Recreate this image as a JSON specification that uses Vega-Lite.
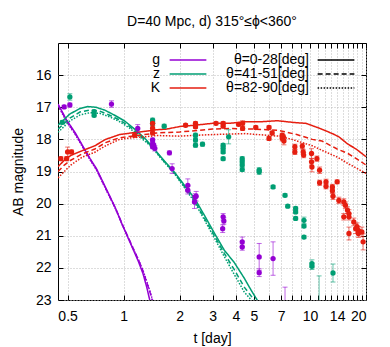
{
  "$schema": "https://vega.github.io/schema/vega-lite/v6.json",
  "width": 308,
  "height": 257,
  "autosize": {"type": "none"},
  "padding": {"left": 58, "top": 43, "right": 24, "bottom": 47},
  "title": {"text": "D=40 Mpc, d) 315°≤ϕ<360°", "fontSize": 14, "font": "Liberation Sans", "fontWeight": "normal", "offset": 14, "anchor": "middle", "color": "#000"},
  "config": {
    "view": {"stroke": "#000", "strokeWidth": 1},
    "font": "Liberation Sans",
    "axis": {"labelFont": "Liberation Sans", "titleFont": "Liberation Sans", "labelColor": "#000", "titleColor": "#000", "labelFontSize": 14, "titleFontSize": 14, "titleFontWeight": "normal", "tickColor": "#000", "domain": false, "gridColor": "#bbbbbb", "gridDash": [1, 2], "gridWidth": 1}
  },
  "datasets": {
    "curves": [
      {"band":"g","theta":"θ=0-28[deg]","t":0.444,"mag":16.9},{"band":"g","theta":"θ=0-28[deg]","t":0.494,"mag":17.4},{"band":"g","theta":"θ=0-28[deg]","t":0.55,"mag":17.8},{"band":"g","theta":"θ=0-28[deg]","t":0.606,"mag":18.23},{"band":"g","theta":"θ=0-28[deg]","t":0.66,"mag":18.6},{"band":"g","theta":"θ=0-28[deg]","t":0.714,"mag":18.91},{"band":"g","theta":"θ=0-28[deg]","t":0.8,"mag":19.5},{"band":"g","theta":"θ=0-28[deg]","t":0.9,"mag":20.12},{"band":"g","theta":"θ=0-28[deg]","t":0.99,"mag":20.7},{"band":"g","theta":"θ=0-28[deg]","t":1.1,"mag":21.3},{"band":"g","theta":"θ=0-28[deg]","t":1.2,"mag":21.8},{"band":"g","theta":"θ=0-28[deg]","t":1.27,"mag":22.18},{"band":"g","theta":"θ=0-28[deg]","t":1.33,"mag":22.6},{"band":"g","theta":"θ=0-28[deg]","t":1.38,"mag":23.0},{"band":"g","theta":"θ=0-28[deg]","t":1.42,"mag":23.3},
      {"band":"g","theta":"θ=41-51[deg]","t":0.444,"mag":16.92},{"band":"g","theta":"θ=41-51[deg]","t":0.494,"mag":17.42},{"band":"g","theta":"θ=41-51[deg]","t":0.55,"mag":17.83},{"band":"g","theta":"θ=41-51[deg]","t":0.606,"mag":18.25},{"band":"g","theta":"θ=41-51[deg]","t":0.66,"mag":18.62},{"band":"g","theta":"θ=41-51[deg]","t":0.714,"mag":18.93},{"band":"g","theta":"θ=41-51[deg]","t":0.8,"mag":19.52},{"band":"g","theta":"θ=41-51[deg]","t":0.9,"mag":20.12},{"band":"g","theta":"θ=41-51[deg]","t":0.99,"mag":20.68},{"band":"g","theta":"θ=41-51[deg]","t":1.1,"mag":21.27},{"band":"g","theta":"θ=41-51[deg]","t":1.2,"mag":21.75},{"band":"g","theta":"θ=41-51[deg]","t":1.27,"mag":22.1},{"band":"g","theta":"θ=41-51[deg]","t":1.33,"mag":22.45},{"band":"g","theta":"θ=41-51[deg]","t":1.4,"mag":22.85},{"band":"g","theta":"θ=41-51[deg]","t":1.45,"mag":23.2},
      {"band":"g","theta":"θ=82-90[deg]","t":0.444,"mag":16.95},{"band":"g","theta":"θ=82-90[deg]","t":0.494,"mag":17.45},{"band":"g","theta":"θ=82-90[deg]","t":0.55,"mag":17.85},{"band":"g","theta":"θ=82-90[deg]","t":0.606,"mag":18.27},{"band":"g","theta":"θ=82-90[deg]","t":0.66,"mag":18.64},{"band":"g","theta":"θ=82-90[deg]","t":0.714,"mag":18.95},{"band":"g","theta":"θ=82-90[deg]","t":0.8,"mag":19.54},{"band":"g","theta":"θ=82-90[deg]","t":0.9,"mag":20.14},{"band":"g","theta":"θ=82-90[deg]","t":0.99,"mag":20.7},{"band":"g","theta":"θ=82-90[deg]","t":1.1,"mag":21.28},{"band":"g","theta":"θ=82-90[deg]","t":1.2,"mag":21.74},{"band":"g","theta":"θ=82-90[deg]","t":1.27,"mag":22.08},{"band":"g","theta":"θ=82-90[deg]","t":1.33,"mag":22.42},{"band":"g","theta":"θ=82-90[deg]","t":1.4,"mag":22.82},{"band":"g","theta":"θ=82-90[deg]","t":1.46,"mag":23.2},
      {"band":"z","theta":"θ=0-28[deg]","t":0.444,"mag":17.56},{"band":"z","theta":"θ=0-28[deg]","t":0.514,"mag":17.21},{"band":"z","theta":"θ=0-28[deg]","t":0.582,"mag":17.04},{"band":"z","theta":"θ=0-28[deg]","t":0.642,"mag":16.98},{"band":"z","theta":"θ=0-28[deg]","t":0.709,"mag":17.0},{"band":"z","theta":"θ=0-28[deg]","t":0.792,"mag":17.09},{"band":"z","theta":"θ=0-28[deg]","t":0.895,"mag":17.25},{"band":"z","theta":"θ=0-28[deg]","t":1.013,"mag":17.43},{"band":"z","theta":"θ=0-28[deg]","t":1.145,"mag":17.68},{"band":"z","theta":"θ=0-28[deg]","t":1.295,"mag":17.96},{"band":"z","theta":"θ=0-28[deg]","t":1.465,"mag":18.31},{"band":"z","theta":"θ=0-28[deg]","t":1.657,"mag":18.68},{"band":"z","theta":"θ=0-28[deg]","t":1.874,"mag":19.02},{"band":"z","theta":"θ=0-28[deg]","t":2.12,"mag":19.43},{"band":"z","theta":"θ=0-28[deg]","t":2.4,"mag":19.83},{"band":"z","theta":"θ=0-28[deg]","t":2.71,"mag":20.36},{"band":"z","theta":"θ=0-28[deg]","t":3.07,"mag":20.92},{"band":"z","theta":"θ=0-28[deg]","t":3.47,"mag":21.45},{"band":"z","theta":"θ=0-28[deg]","t":3.92,"mag":21.83},{"band":"z","theta":"θ=0-28[deg]","t":4.44,"mag":22.32},{"band":"z","theta":"θ=0-28[deg]","t":4.84,"mag":22.7},{"band":"z","theta":"θ=0-28[deg]","t":5.21,"mag":23.0},{"band":"z","theta":"θ=0-28[deg]","t":5.4,"mag":23.25},
      {"band":"z","theta":"θ=41-51[deg]","t":0.444,"mag":17.68},{"band":"z","theta":"θ=41-51[deg]","t":0.514,"mag":17.34},{"band":"z","theta":"θ=41-51[deg]","t":0.582,"mag":17.15},{"band":"z","theta":"θ=41-51[deg]","t":0.658,"mag":17.09},{"band":"z","theta":"θ=41-51[deg]","t":0.744,"mag":17.12},{"band":"z","theta":"θ=41-51[deg]","t":0.842,"mag":17.25},{"band":"z","theta":"θ=41-51[deg]","t":0.952,"mag":17.4},{"band":"z","theta":"θ=41-51[deg]","t":1.077,"mag":17.6},{"band":"z","theta":"θ=41-51[deg]","t":1.21,"mag":17.85},{"band":"z","theta":"θ=41-51[deg]","t":1.377,"mag":18.15},{"band":"z","theta":"θ=41-51[deg]","t":1.465,"mag":18.33},{"band":"z","theta":"θ=41-51[deg]","t":1.657,"mag":18.7},{"band":"z","theta":"θ=41-51[deg]","t":1.874,"mag":19.05},{"band":"z","theta":"θ=41-51[deg]","t":2.12,"mag":19.47},{"band":"z","theta":"θ=41-51[deg]","t":2.4,"mag":19.9},{"band":"z","theta":"θ=41-51[deg]","t":2.71,"mag":20.45},{"band":"z","theta":"θ=41-51[deg]","t":3.07,"mag":21.0},{"band":"z","theta":"θ=41-51[deg]","t":3.47,"mag":21.55},{"band":"z","theta":"θ=41-51[deg]","t":3.92,"mag":22.05},{"band":"z","theta":"θ=41-51[deg]","t":4.44,"mag":22.6},{"band":"z","theta":"θ=41-51[deg]","t":5.02,"mag":23.0},{"band":"z","theta":"θ=41-51[deg]","t":5.2,"mag":23.25},
      {"band":"z","theta":"θ=82-90[deg]","t":0.444,"mag":17.78},{"band":"z","theta":"θ=82-90[deg]","t":0.514,"mag":17.43},{"band":"z","theta":"θ=82-90[deg]","t":0.582,"mag":17.24},{"band":"z","theta":"θ=82-90[deg]","t":0.658,"mag":17.17},{"band":"z","theta":"θ=82-90[deg]","t":0.744,"mag":17.19},{"band":"z","theta":"θ=82-90[deg]","t":0.842,"mag":17.3},{"band":"z","theta":"θ=82-90[deg]","t":0.952,"mag":17.45},{"band":"z","theta":"θ=82-90[deg]","t":1.077,"mag":17.65},{"band":"z","theta":"θ=82-90[deg]","t":1.21,"mag":17.9},{"band":"z","theta":"θ=82-90[deg]","t":1.377,"mag":18.18},{"band":"z","theta":"θ=82-90[deg]","t":1.465,"mag":18.35},{"band":"z","theta":"θ=82-90[deg]","t":1.657,"mag":18.72},{"band":"z","theta":"θ=82-90[deg]","t":1.874,"mag":19.07},{"band":"z","theta":"θ=82-90[deg]","t":2.12,"mag":19.5},{"band":"z","theta":"θ=82-90[deg]","t":2.4,"mag":19.95},{"band":"z","theta":"θ=82-90[deg]","t":2.71,"mag":20.5},{"band":"z","theta":"θ=82-90[deg]","t":3.07,"mag":21.07},{"band":"z","theta":"θ=82-90[deg]","t":3.47,"mag":21.65},{"band":"z","theta":"θ=82-90[deg]","t":3.92,"mag":22.2},{"band":"z","theta":"θ=82-90[deg]","t":4.44,"mag":22.75},{"band":"z","theta":"θ=82-90[deg]","t":4.84,"mag":23.0},{"band":"z","theta":"θ=82-90[deg]","t":5.0,"mag":23.2},
      {"band":"K","theta":"θ=0-28[deg]","t":0.444,"mag":18.85},{"band":"K","theta":"θ=0-28[deg]","t":0.48,"mag":18.65},{"band":"K","theta":"θ=0-28[deg]","t":0.52,"mag":18.5},{"band":"K","theta":"θ=0-28[deg]","t":0.6,"mag":18.35},{"band":"K","theta":"θ=0-28[deg]","t":0.7,"mag":18.2},{"band":"K","theta":"θ=0-28[deg]","t":0.8,"mag":18.0},{"band":"K","theta":"θ=0-28[deg]","t":0.95,"mag":17.85},{"band":"K","theta":"θ=0-28[deg]","t":1.1,"mag":17.8},{"band":"K","theta":"θ=0-28[deg]","t":1.3,"mag":17.75},{"band":"K","theta":"θ=0-28[deg]","t":1.5,"mag":17.7},{"band":"K","theta":"θ=0-28[deg]","t":1.7,"mag":17.68},{"band":"K","theta":"θ=0-28[deg]","t":2.0,"mag":17.6},{"band":"K","theta":"θ=0-28[deg]","t":2.5,"mag":17.55},{"band":"K","theta":"θ=0-28[deg]","t":3.0,"mag":17.5},{"band":"K","theta":"θ=0-28[deg]","t":3.7,"mag":17.5},{"band":"K","theta":"θ=0-28[deg]","t":4.5,"mag":17.45},{"band":"K","theta":"θ=0-28[deg]","t":5.5,"mag":17.45},{"band":"K","theta":"θ=0-28[deg]","t":6.7,"mag":17.42},{"band":"K","theta":"θ=0-28[deg]","t":8.4,"mag":17.48},{"band":"K","theta":"θ=0-28[deg]","t":9.5,"mag":17.5},{"band":"K","theta":"θ=0-28[deg]","t":11.1,"mag":17.64},{"band":"K","theta":"θ=0-28[deg]","t":13.2,"mag":17.82},{"band":"K","theta":"θ=0-28[deg]","t":14.3,"mag":17.92},{"band":"K","theta":"θ=0-28[deg]","t":16,"mag":18.15},{"band":"K","theta":"θ=0-28[deg]","t":17.7,"mag":18.3},{"band":"K","theta":"θ=0-28[deg]","t":20,"mag":18.54},
      {"band":"K","theta":"θ=41-51[deg]","t":0.444,"mag":19.0},{"band":"K","theta":"θ=41-51[deg]","t":0.48,"mag":18.8},{"band":"K","theta":"θ=41-51[deg]","t":0.52,"mag":18.65},{"band":"K","theta":"θ=41-51[deg]","t":0.6,"mag":18.45},{"band":"K","theta":"θ=41-51[deg]","t":0.7,"mag":18.3},{"band":"K","theta":"θ=41-51[deg]","t":0.8,"mag":18.1},{"band":"K","theta":"θ=41-51[deg]","t":0.95,"mag":17.95},{"band":"K","theta":"θ=41-51[deg]","t":1.1,"mag":17.9},{"band":"K","theta":"θ=41-51[deg]","t":1.3,"mag":17.85},{"band":"K","theta":"θ=41-51[deg]","t":1.5,"mag":17.8},{"band":"K","theta":"θ=41-51[deg]","t":2.0,"mag":17.77},{"band":"K","theta":"θ=41-51[deg]","t":2.5,"mag":17.72},{"band":"K","theta":"θ=41-51[deg]","t":3.0,"mag":17.68},{"band":"K","theta":"θ=41-51[deg]","t":3.7,"mag":17.66},{"band":"K","theta":"θ=41-51[deg]","t":5.0,"mag":17.68},{"band":"K","theta":"θ=41-51[deg]","t":6.8,"mag":17.72},{"band":"K","theta":"θ=41-51[deg]","t":8.5,"mag":17.85},{"band":"K","theta":"θ=41-51[deg]","t":10.3,"mag":18.0},{"band":"K","theta":"θ=41-51[deg]","t":11.6,"mag":18.05},{"band":"K","theta":"θ=41-51[deg]","t":14,"mag":18.3},{"band":"K","theta":"θ=41-51[deg]","t":16,"mag":18.44},{"band":"K","theta":"θ=41-51[deg]","t":18,"mag":18.62},{"band":"K","theta":"θ=41-51[deg]","t":20,"mag":18.8},
      {"band":"K","theta":"θ=82-90[deg]","t":0.444,"mag":19.2},{"band":"K","theta":"θ=82-90[deg]","t":0.48,"mag":19.0},{"band":"K","theta":"θ=82-90[deg]","t":0.52,"mag":18.8},{"band":"K","theta":"θ=82-90[deg]","t":0.6,"mag":18.55},{"band":"K","theta":"θ=82-90[deg]","t":0.7,"mag":18.4},{"band":"K","theta":"θ=82-90[deg]","t":0.8,"mag":18.2},{"band":"K","theta":"θ=82-90[deg]","t":0.95,"mag":18.0},{"band":"K","theta":"θ=82-90[deg]","t":1.1,"mag":17.95},{"band":"K","theta":"θ=82-90[deg]","t":1.3,"mag":17.92},{"band":"K","theta":"θ=82-90[deg]","t":1.5,"mag":17.88},{"band":"K","theta":"θ=82-90[deg]","t":2.0,"mag":17.9},{"band":"K","theta":"θ=82-90[deg]","t":2.5,"mag":17.87},{"band":"K","theta":"θ=82-90[deg]","t":3.0,"mag":17.85},{"band":"K","theta":"θ=82-90[deg]","t":4.5,"mag":17.82},{"band":"K","theta":"θ=82-90[deg]","t":6.8,"mag":17.9},{"band":"K","theta":"θ=82-90[deg]","t":8.0,"mag":18.0},{"band":"K","theta":"θ=82-90[deg]","t":10.3,"mag":18.2},{"band":"K","theta":"θ=82-90[deg]","t":11.6,"mag":18.34},{"band":"K","theta":"θ=82-90[deg]","t":14,"mag":18.55},{"band":"K","theta":"θ=82-90[deg]","t":16,"mag":18.75},{"band":"K","theta":"θ=82-90[deg]","t":20,"mag":19.06}
    ],
    "obs": [
      {"band":"g","t":0.479,"mag":16.99,"lo":16.94,"hi":17.04},{"band":"g","t":0.514,"mag":16.93,"lo":16.87,"hi":16.99},{"band":"g","t":0.86,"mag":16.9,"lo":16.8,"hi":17.0},{"band":"g","t":1.19,"mag":17.66,"lo":17.54,"hi":17.78},{"band":"g","t":1.43,"mag":18.02,"lo":17.96,"hi":18.08},{"band":"g","t":1.43,"mag":18.13,"lo":18.07,"hi":18.19},{"band":"g","t":1.43,"mag":18.23,"lo":18.17,"hi":18.29},{"band":"g","t":1.47,"mag":18.28,"lo":18.2,"hi":18.36},{"band":"g","t":1.45,"mag":18.18,"lo":18.12,"hi":18.24},{"band":"g","t":1.76,"mag":18.42,"lo":18.36,"hi":18.48},{"band":"g","t":1.82,"mag":18.91,"lo":18.76,"hi":19.06},{"band":"g","t":2.21,"mag":19.43,"lo":19.23,"hi":19.63},{"band":"g","t":2.21,"mag":19.58,"lo":19.46,"hi":19.7},{"band":"g","t":2.42,"mag":19.79,"lo":19.69,"hi":19.89},{"band":"g","t":2.4,"mag":19.95,"lo":19.75,"hi":20.15},{"band":"g","t":2.45,"mag":19.77,"lo":19.62,"hi":19.92},{"band":"g","t":3.42,"mag":20.41,"lo":20.31,"hi":20.51},{"band":"g","t":3.45,"mag":20.54,"lo":20.44,"hi":20.64},{"band":"g","t":3.4,"mag":20.78,"lo":20.66,"hi":20.9},{"band":"g","t":4.33,"mag":21.19,"lo":21.04,"hi":21.34},{"band":"g","t":4.33,"mag":21.35,"lo":21.25,"hi":21.45},{"band":"g","t":5.34,"mag":21.66,"lo":21.24,"hi":22.08},{"band":"g","t":5.34,"mag":22.15,"lo":22.03,"hi":22.27},{"band":"g","t":6.34,"mag":21.71,"lo":21.19,"hi":22.23},{"band":"g","t":7.35,"mag":23.4,"lo":22.6,"hi":24.2},
      {"band":"z","t":0.468,"mag":17.47,"lo":17.41,"hi":17.53},{"band":"z","t":0.514,"mag":16.68,"lo":16.58,"hi":16.78},{"band":"z","t":0.694,"mag":17.14,"lo":17.09,"hi":17.19},{"band":"z","t":0.694,"mag":17.25,"lo":17.2,"hi":17.3},{"band":"z","t":1.43,"mag":17.4,"lo":17.34,"hi":17.46},{"band":"z","t":1.43,"mag":17.5,"lo":17.44,"hi":17.56},{"band":"z","t":1.65,"mag":17.59,"lo":17.53,"hi":17.65},{"band":"z","t":2.43,"mag":17.87,"lo":17.81,"hi":17.93},{"band":"z","t":2.43,"mag":18.02,"lo":17.96,"hi":18.08},{"band":"z","t":2.43,"mag":18.18,"lo":18.12,"hi":18.24},{"band":"z","t":2.65,"mag":18.15,"lo":18.09,"hi":18.21},{"band":"z","t":3.42,"mag":18.18,"lo":18.13,"hi":18.23},{"band":"z","t":3.42,"mag":18.28,"lo":18.23,"hi":18.33},{"band":"z","t":3.42,"mag":18.39,"lo":18.34,"hi":18.44},{"band":"z","t":3.42,"mag":18.6,"lo":18.55,"hi":18.65},{"band":"z","t":3.66,"mag":17.92,"lo":17.7,"hi":18.14},{"band":"z","t":4.33,"mag":18.6,"lo":18.54,"hi":18.66},{"band":"z","t":4.33,"mag":18.7,"lo":18.64,"hi":18.76},{"band":"z","t":4.33,"mag":18.8,"lo":18.74,"hi":18.86},{"band":"z","t":4.33,"mag":18.94,"lo":18.88,"hi":19.0},{"band":"z","t":5.34,"mag":18.96,"lo":18.88,"hi":19.04},{"band":"z","t":5.34,"mag":19.01,"lo":18.93,"hi":19.09},{"band":"z","t":6.34,"mag":19.48,"lo":19.43,"hi":19.53},{"band":"z","t":7.35,"mag":19.74,"lo":19.69,"hi":19.79},{"band":"z","t":7.6,"mag":20.08,"lo":20.03,"hi":20.13},{"band":"z","t":8.38,"mag":20.15,"lo":20.1,"hi":20.2},{"band":"z","t":8.38,"mag":20.26,"lo":20.21,"hi":20.31},{"band":"z","t":8.38,"mag":20.46,"lo":20.41,"hi":20.51},{"band":"z","t":9.29,"mag":20.52,"lo":20.42,"hi":20.62},{"band":"z","t":9.29,"mag":20.7,"lo":20.65,"hi":20.75},{"band":"z","t":9.29,"mag":21.04,"lo":20.99,"hi":21.09},{"band":"z","t":10.25,"mag":21.87,"lo":21.75,"hi":21.99},{"band":"z","t":10.25,"mag":21.95,"lo":21.85,"hi":22.05},{"band":"z","t":11.2,"mag":23.4,"lo":22.25,"hi":24.55},{"band":"z","t":13.3,"mag":22.16,"lo":21.88,"hi":22.44},
      {"band":"K","t":0.46,"mag":18.6,"lo":18.54,"hi":18.66},{"band":"K","t":0.494,"mag":18.6,"lo":18.54,"hi":18.66},{"band":"K","t":0.5,"mag":18.39,"lo":18.24,"hi":18.54},{"band":"K","t":0.525,"mag":18.39,"lo":18.33,"hi":18.45},{"band":"K","t":1.145,"mag":17.87,"lo":17.81,"hi":17.93},{"band":"K","t":1.43,"mag":17.5,"lo":17.44,"hi":17.56},{"band":"K","t":1.43,"mag":17.65,"lo":17.59,"hi":17.71},{"band":"K","t":1.43,"mag":17.8,"lo":17.74,"hi":17.86},{"band":"K","t":2.15,"mag":17.56,"lo":17.51,"hi":17.61},{"band":"K","t":2.43,"mag":17.5,"lo":17.45,"hi":17.55},{"band":"K","t":2.43,"mag":17.61,"lo":17.56,"hi":17.66},{"band":"K","t":3.13,"mag":17.5,"lo":17.45,"hi":17.55},{"band":"K","t":3.42,"mag":17.5,"lo":17.45,"hi":17.55},{"band":"K","t":3.42,"mag":17.59,"lo":17.54,"hi":17.64},{"band":"K","t":4.14,"mag":17.53,"lo":17.48,"hi":17.58},{"band":"K","t":4.35,"mag":17.5,"lo":17.42,"hi":17.58},{"band":"K","t":4.35,"mag":17.66,"lo":17.6,"hi":17.72},{"band":"K","t":5.12,"mag":17.63,"lo":17.58,"hi":17.68},{"band":"K","t":6.03,"mag":17.63,"lo":17.58,"hi":17.68},{"band":"K","t":6.27,"mag":17.8,"lo":17.74,"hi":17.86},{"band":"K","t":6.03,"mag":17.97,"lo":17.91,"hi":18.03},{"band":"K","t":7.1,"mag":17.87,"lo":17.81,"hi":17.93},{"band":"K","t":7.1,"mag":17.97,"lo":17.89,"hi":18.05},{"band":"K","t":7.2,"mag":17.92,"lo":17.86,"hi":17.98},{"band":"K","t":7.25,"mag":18.05,"lo":17.93,"hi":18.17},{"band":"K","t":8.3,"mag":18.23,"lo":18.15,"hi":18.31},{"band":"K","t":8.3,"mag":18.39,"lo":18.31,"hi":18.47},{"band":"K","t":9.1,"mag":18.21,"lo":18.13,"hi":18.29},{"band":"K","t":9.2,"mag":18.39,"lo":18.31,"hi":18.47},{"band":"K","t":9.25,"mag":18.49,"lo":18.41,"hi":18.57},{"band":"K","t":10.2,"mag":18.44,"lo":18.29,"hi":18.59},{"band":"K","t":10.2,"mag":18.7,"lo":18.6,"hi":18.8},{"band":"K","t":10.25,"mag":18.86,"lo":18.71,"hi":19.01},{"band":"K","t":10.9,"mag":18.6,"lo":18.52,"hi":18.68},{"band":"K","t":11.27,"mag":18.96,"lo":18.86,"hi":19.06},{"band":"K","t":11.27,"mag":19.35,"lo":19.27,"hi":19.43},{"band":"K","t":12.2,"mag":19.32,"lo":19.24,"hi":19.4},{"band":"K","t":12.2,"mag":19.46,"lo":19.38,"hi":19.54},{"band":"K","t":13.2,"mag":19.48,"lo":19.4,"hi":19.56},{"band":"K","t":13.2,"mag":19.6,"lo":19.52,"hi":19.68},{"band":"K","t":14.0,"mag":19.32,"lo":19.26,"hi":19.38},{"band":"K","t":13.3,"mag":19.77,"lo":19.67,"hi":19.87},{"band":"K","t":14.3,"mag":19.9,"lo":19.8,"hi":20.0},{"band":"K","t":15.2,"mag":19.95,"lo":19.85,"hi":20.05},{"band":"K","t":15.5,"mag":20.05,"lo":19.95,"hi":20.15},{"band":"K","t":15.9,"mag":20.2,"lo":20.1,"hi":20.3},{"band":"K","t":16.2,"mag":20.31,"lo":20.19,"hi":20.43},{"band":"K","t":15.2,"mag":20.41,"lo":20.31,"hi":20.51},{"band":"K","t":16.2,"mag":20.41,"lo":20.31,"hi":20.51},{"band":"K","t":17.2,"mag":20.57,"lo":20.45,"hi":20.69},{"band":"K","t":17.9,"mag":20.72,"lo":20.6,"hi":20.84},{"band":"K","t":18.2,"mag":20.83,"lo":20.71,"hi":20.95},{"band":"K","t":16.2,"mag":20.93,"lo":20.73,"hi":21.13},{"band":"K","t":17.6,"mag":20.78,"lo":20.63,"hi":20.93},{"band":"K","t":18.2,"mag":20.93,"lo":20.81,"hi":21.05},{"band":"K","t":19.0,"mag":20.88,"lo":20.73,"hi":21.03},{"band":"K","t":19.3,"mag":21.19,"lo":20.94,"hi":21.44}
    ]
  },
  "layer": [
    {
      "data": {"name": "curves"},
      "mark": {"type": "line", "strokeWidth": 1.5, "clip": true},
      "encoding": {
        "x": {"field": "t", "type": "quantitative", "scale": {"type": "log", "domain": [0.444, 20], "nice": false},
          "axis": {"orient": "bottom", "values": [0.5,1,2,3,4,5,6,7,8,9,10,11,12,13,14,15,16,17,18,19,20], "format": "~g", "labelExpr": "indexof([0.5,1,2,3,4,5,7,10,14,20], datum.value) >= 0 ? datum.label : ''", "grid": true, "tickSize": -5, "labelPadding": 14, "title": "t [day]", "titlePadding": 8}},
        "y": {"field": "mag", "type": "quantitative", "scale": {"domain": [15, 23], "reverse": true, "nice": false, "zero": false},
          "axis": {"orient": "left", "values": [16,17,18,19,20,21,22,23], "grid": true, "tickSize": -5, "labelPadding": 12, "title": "AB magnitude", "titlePadding": 10}},
        "stroke": {"field": "band", "type": "nominal", "scale": {"domain": ["g", "z", "K"], "range": ["#9400D3", "#009E73", "#E51E10"]},
          "legend": {"orient": "none", "legendX": 123, "legendY": 10, "title": null, "padding": 0, "symbolType": "M -3 0 H 3", "symbolSize": 150, "symbolStrokeWidth": 1.5, "labelAlign": "right", "labelOffset": -35, "labelFontSize": 14, "labelFont": "Liberation Sans", "labelColor": "#000", "rowPadding": -2.5}},
        "strokeDash": {"field": "theta", "type": "nominal", "scale": {"domain": ["θ=0-28[deg]", "θ=41-51[deg]", "θ=82-90[deg]"], "range": [[1, 0], [5, 3], [1.5, 1.5]]},
          "legend": {"orient": "none", "legendX": 271, "legendY": 10, "title": null, "padding": 0, "symbolType": "M -3 0 H 3", "symbolSize": 150, "symbolStrokeWidth": 1.5, "symbolStrokeColor": "#000", "labelAlign": "right", "labelOffset": -34, "labelFontSize": 14, "labelFont": "Liberation Sans", "labelColor": "#000", "rowPadding": -2.5}},
        "detail": {"field": "band"}
      }
    },
    {
      "data": {"name": "obs"},
      "mark": {"type": "errorbar", "ticks": true, "size": 5, "thickness": 1, "opacity": 0.6, "clip": true},
      "encoding": {
        "x": {"field": "t", "type": "quantitative", "axis": null},
        "y": {"field": "lo", "type": "quantitative", "axis": null},
        "y2": {"field": "hi"},
        "color": {"field": "band", "type": "nominal", "scale": {"domain": ["g", "z", "K"], "range": ["#9400D3", "#009E73", "#E51E10"]}, "legend": null}
      }
    },
    {
      "data": {"name": "obs"},
      "mark": {"type": "point", "filled": true, "shape": "circle", "size": 28, "opacity": 1, "clip": true},
      "encoding": {
        "x": {"field": "t", "type": "quantitative",
          "axis": {"orient": "top", "values": [0.5,1,2,3,4,5,6,7,8,9,10,11,12,13,14,15,16,17,18,19,20], "labels": false, "grid": false, "tickSize": -5, "title": null}},
        "y": {"field": "mag", "type": "quantitative",
          "axis": {"orient": "right", "values": [16,17,18,19,20,21,22], "labels": false, "grid": false, "tickSize": -5, "title": null}},
        "fill": {"field": "band", "type": "nominal", "scale": {"domain": ["g", "z", "K"], "range": ["#9400D3", "#009E73", "#E51E10"]}, "legend": null}
      }
    }
  ],
  "resolve": {"axis": {"x": "independent", "y": "independent"}}
}
